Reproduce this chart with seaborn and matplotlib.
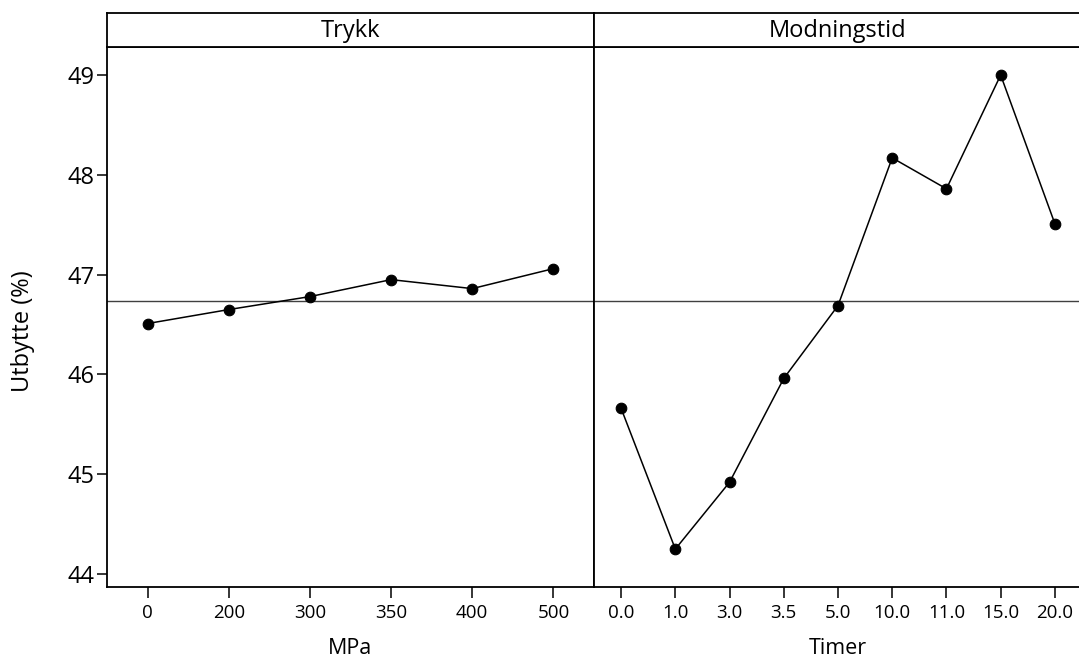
import matplotlib
matplotlib.use("Agg")
import matplotlib.pyplot as plt
import seaborn as sns
import pandas as pd

# ---- data ----
trykk_labels = ["0", "200", "300", "350", "400", "500"]
trykk_values = [46.51, 46.65, 46.78, 46.95, 46.86, 47.06]
tid_labels = ["0.0", "1.0", "3.0", "3.5", "5.0", "10.0", "11.0", "15.0", "20.0"]
tid_values = [45.66, 44.25, 44.92, 45.96, 46.69, 48.17, 47.86, 49.00, 47.51]
grand_mean = 46.74
panel_titles = ["Trykk", "Modningstid"]
x_titles = ["MPa", "Timer"]
y_title = "Utbytte (%)"
y_ticks = [44, 45, 46, 47, 48, 49]

sns.set_style("ticks")
plt.rcParams['font.family'] = ['Open Sans', 'DejaVu Sans']
plt.rcParams['text.color'] = 'black'
plt.rcParams['axes.labelcolor'] = 'black'
plt.rcParams['xtick.color'] = 'black'
plt.rcParams['ytick.color'] = 'black'

W, H = 1079, 659
fig = plt.figure(figsize=(W / 100, H / 100), dpi=100)


def rect(l, t, r, b):
    return [l / W, 1 - b / H, (r - l) / W, (b - t) / H]


axL = fig.add_axes(rect(107, 47, 594, 587))
axR = fig.add_axes(rect(594, 47, 1082, 587))
sL = fig.add_axes(rect(107, 13, 594, 47))
sR = fig.add_axes(rect(594, 13, 1082, 47))

ylim = (43.87, 49.281)
for ax, labels, vals, xt in [(axL, trykk_labels, trykk_values, x_titles[0]),
                              (axR, tid_labels, tid_values, x_titles[1])]:
    df = pd.DataFrame({"x": labels, "y": vals})
    sns.pointplot(data=df, x="x", y="y", order=labels, color="black",
                  markers="o", linestyles="-", markersize=7.6, linewidth=1.1,
                  ax=ax)
    ax.axhline(grand_mean, color="#404040", lw=1.0, zorder=0)
    ax.set_xlim(-0.5, len(labels) - 0.5)
    ax.set_ylim(*ylim)
    ax.set_xlabel(xt, fontsize=15.5)
    ax.xaxis.label.set_va("center")
    ax.set_ylabel("")
    for s in ax.spines.values():
        s.set_linewidth(1.3)
        s.set_color("black")
    ax.tick_params(axis="x", direction="out", length=8, width=1.1,
                   labelsize=13.5, pad=4, colors="black")
    ax.xaxis.set_label_coords(0.5, -0.113)

axL.set_yticks(y_ticks)
axL.tick_params(axis="y", direction="out", length=7, width=1.1,
                labelsize=17, pad=2)
axL.set_ylabel(y_title, fontsize=17)
axL.yaxis.label.set_va("center")
axL.yaxis.set_label_coords(-0.1725, 0.474)
axR.set_yticks([])
axR.spines["right"].set_visible(False)

for s, t in [(sL, panel_titles[0]), (sR, panel_titles[1])]:
    s.set_xticks([])
    s.set_yticks([])
    for sp in s.spines.values():
        sp.set_linewidth(1.3)
        sp.set_color("black")
    s.text(0.5, 0.47, t, ha="center", va="center", fontsize=17,
           transform=s.transAxes)
sR.spines["right"].set_visible(False)

fig.savefig("out.png", dpi=100)
